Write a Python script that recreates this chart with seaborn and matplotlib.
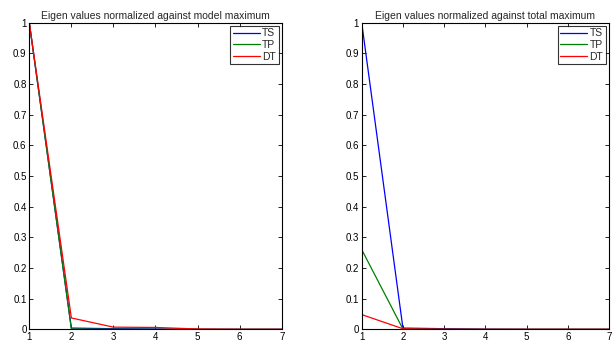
import numpy as np
import pandas as pd
import matplotlib
matplotlib.use("Agg")
import matplotlib.pyplot as plt
import seaborn as sns

x = [1, 2, 3, 4, 5, 6, 7]
series = ["TS", "TP", "DT"]

# normalized against model maximum
model_ts = [1.0, 0.004, 0.002, 0.001, 0.0, 0.0, 0.0]
model_tp = [1.0, 0.001, 0.0005, 0.0, 0.0, 0.0, 0.0]
model_dt = [1.0, 0.037, 0.007, 0.006, 0.001, 0.0, 0.0]

# normalized against total maximum
total_ts = [1.0, 0.004, 0.002, 0.0005, 0.0, 0.0, 0.0]
total_tp = [0.26, 0.001, 0.0003, 0.0, 0.0, 0.0, 0.0]
total_dt = [0.048, 0.0018, 0.0003, 0.0, 0.0, 0.0, 0.0]

titles = ["Eigen values normalized against model maximum",
          "Eigen values normalized against total maximum"]
colors = {"TS": (0, 0, 1), "TP": (0, 0.5, 0), "DT": (1, 0, 0)}

def frame(ts, tp, dt):
    rows = []
    for name, vals in zip(series, [ts, tp, dt]):
        for xi, v in zip(x, vals):
            rows.append({"x": xi, "value": v, "series": name})
    return pd.DataFrame(rows)

sns.set_style("white")
plt.rcParams['font.family'] = ['Liberation Sans', 'DejaVu Sans']

fig = plt.figure(figsize=(6.13, 3.45), dpi=100)
ax1 = fig.add_axes([29.3/613, 1-329.3/345, (281.7-29.3)/613, (329.3-22.7)/345])
ax2 = fig.add_axes([361.7/613, 1-329.3/345, (609.0-361.7)/613, (329.3-22.7)/345])

for ax, data, title in zip([ax1, ax2],
                           [frame(model_ts, model_tp, model_dt), frame(total_ts, total_tp, total_dt)],
                           titles):
    sns.lineplot(data=data, x="x", y="value", hue="series", hue_order=series,
                 palette=colors, ax=ax, linewidth=0.9, estimator=None)
    ax.set_xlim(1, 7)
    ax.set_ylim(0, 1)
    ax.set_xticks(x)
    ax.set_yticks(np.round(np.arange(0, 1.01, 0.1), 1))
    ax.set_yticklabels(["0", "0.1", "0.2", "0.3", "0.4", "0.5", "0.6", "0.7", "0.8", "0.9", "1"])
    ax.set_xlabel("")
    ax.set_ylabel("")
    ax.set_title(title, fontsize=7.5, pad=3)
    ax.tick_params(direction="in", length=3, width=0.6, labelsize=7, pad=2,
                   top=True, right=True, bottom=True, left=True, colors="black")
    for s in ax.spines.values():
        s.set_visible(True)
        s.set_color("black")
        s.set_linewidth(0.8)
    leg = ax.legend(loc="upper right", fontsize=7.5, frameon=True, fancybox=False,
                    handlelength=2.6, handletextpad=0.2, borderpad=0.25,
                    labelspacing=0.15, borderaxespad=0.3, title=None)
    leg.get_frame().set_edgecolor("black")
    leg.get_frame().set_linewidth(0.8)

fig.savefig("out.png", dpi=100)
